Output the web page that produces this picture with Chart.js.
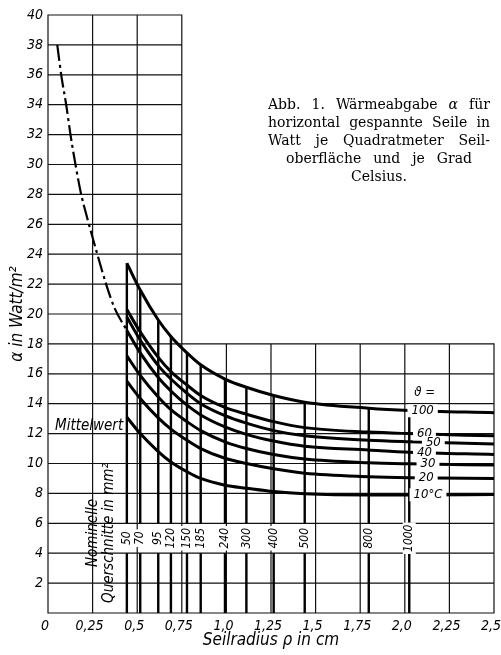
<!DOCTYPE html>
<html lang="de">
<head>
<meta charset="utf-8">
<title>Wärmeabgabe horizontal gespannter Seile</title>
<script src="https://cdn.jsdelivr.net/npm/chart.js@4.4.1/dist/chart.umd.min.js"></script>
<style>
  html, body { margin: 0; padding: 0; background: #fff; }
  canvas { display: block; }
</style>
</head>
<body>
<canvas id="waermeChart" width="501" height="655"></canvas>
<script>
// Stützstellen der Kurven: Seilradius in cm (Querschnitte 50 ... 1000 mm², dazu der Rand bei 2,5 cm)
const radii = [0.442, 0.517, 0.618, 0.689, 0.779, 0.856, 0.992, 1.112, 1.265, 1.439, 1.798, 2.025, 2.5];

// Wärmeabgabe α in W/m² je Grad, eine Reihe je Übertemperatur ϑ
const alpha100 = [23.4, 21.6, 19.6, 18.5, 17.4, 16.6, 15.65, 15.1, 14.55, 14.1, 13.7, 13.55, 13.4];
const alpha60  = [20.3, 18.8, 17.1, 16.15, 15.25, 14.55, 13.75, 13.3, 12.8, 12.4, 12.1, 12.0, 11.85];
const alpha50  = [19.8, 18.25, 16.55, 15.65, 14.7, 14.0, 13.2, 12.7, 12.2, 11.85, 11.55, 11.45, 11.3];
const alpha40  = [18.9, 17.4, 15.75, 14.85, 13.9, 13.25, 12.45, 11.95, 11.5, 11.15, 10.9, 10.75, 10.6];
const alpha30  = [17.2, 15.9, 14.45, 13.6, 12.8, 12.2, 11.45, 11.0, 10.6, 10.3, 10.05, 9.98, 9.9];
const alpha20  = [15.5, 14.35, 13.05, 12.3, 11.55, 11.0, 10.35, 10.0, 9.65, 9.35, 9.12, 9.05, 9.0];
const alpha10  = [13.1, 12.0, 10.8, 10.1, 9.45, 9.0, 8.55, 8.35, 8.12, 7.98, 7.9, 7.9, 7.92];
const tempLabels = ["100", "60", "50", "40", "30", "20", "10°C"];

// strichpunktierte Verlängerung zu kleinen Radien hin
const dashRadii = [0.052, 0.074, 0.102, 0.126, 0.154, 0.186, 0.218, 0.248, 0.274, 0.323, 0.373, 0.442];
const dashAlpha = [38, 36, 34, 32, 30, 28, 26.5, 25.2, 24.1, 22.1, 20.4, 18.9];

// Nennquerschnitte in mm², einer je Radius (ohne 2,5 cm)
const sectionLabels = ["50", "70", "95", "120", "150", "185", "240", "300", "400", "500", "800", "1000"];

const xTickValues = [0, 0.25, 0.5, 0.75, 1.0, 1.25, 1.5, 1.75, 2.0, 2.25, 2.5];
const xTickLabels = ["0", "0,25", "0,5", "0,75", "1,0", "1,25", "1,5", "1,75", "2,0", "2,25", "2,5"];
const yTickValues = [0, 2, 4, 6, 8, 10, 12, 14, 16, 18, 20, 22, 24, 26, 28, 30, 32, 34, 36, 38, 40];
const yTickLabels = ["", "2", "4", "6", "8", "10", "12", "14", "16", "18", "20", "22", "24", "26", "28", "30", "32", "34", "36", "38", "40"];

const captionLines = [
  "Abb. 1. Wärmeabgabe α für",
  "horizontal gespannte Seile in",
  "Watt je Quadratmeter Seil-",
  "oberfläche und je Grad",
  "Celsius."
];

const LETTER = "'Liberation Sans Narrow', 'DejaVu Sans Condensed', 'Arial Narrow', sans-serif";
const SERIF = "'DejaVu Serif', 'Liberation Serif', serif";

// Rasterfeld rechts oberhalb dieser Ecke bleibt frei (dort steht die Unterschrift)
const gridCorner = { x: 0.75, y: 18 };
// Band der Querschnittsbeschriftung, dort sind die Querschnittslinien unterbrochen
const labelBand = [4, 6];
// Lage der ϑ-Beschriftung auf den Kurven (Radius)
const tempLabelAt = [2.10, 2.11, 2.16, 2.11, 2.13, 2.12, 2.13];

const curves = [alpha100, alpha60, alpha50, alpha40, alpha30, alpha20, alpha10];

const datasets = curves.map((vals, i) => ({
  label: "ϑ = " + tempLabels[i],
  data: radii.map((r, k) => ({ x: r, y: vals[k] })),
  borderColor: "#000",
  borderWidth: 3,
  pointRadius: 0,
  cubicInterpolationMode: "monotone"
}));

datasets.push({
  label: "Verlängerung",
  data: dashRadii.map((r, k) => ({ x: r, y: dashAlpha[k] })),
  borderColor: "#000",
  borderWidth: 2.2,
  borderDash: [16, 4, 3, 4],
  pointRadius: 0,
  cubicInterpolationMode: "monotone"
});

sectionLabels.forEach((lab, k) => {
  const r = radii[k];
  datasets.push({
    label: lab + " mm²",
    data: [
      { x: r, y: 0 }, { x: r, y: labelBand[0] },
      { x: r, y: null },
      { x: r, y: labelBand[1] }, { x: r, y: alpha100[k] }
    ],
    borderColor: "#000",
    borderWidth: 2.4,
    pointRadius: 0
  });
});

// Wert einer Kurve zwischen zwei Stützstellen, nur für die Lage der Beschriftung
function valueAt(vals, r) {
  for (let i = 1; i < radii.length; i++) {
    if (r <= radii[i]) {
      const t = (r - radii[i - 1]) / (radii[i] - radii[i - 1]);
      return vals[i - 1] + t * (vals[i] - vals[i - 1]);
    }
  }
  return vals[vals.length - 1];
}

function boxedText(ctx, text, px, py, rotate, pad) {
  ctx.save();
  ctx.translate(px, py);
  if (rotate) ctx.rotate(-Math.PI / 2);
  const w = ctx.measureText(text).width;
  ctx.fillStyle = "#fff";
  ctx.fillRect(-w / 2 - pad, -6.5, w + 2 * pad, 13);
  ctx.fillStyle = "#000";
  ctx.textAlign = "center";
  ctx.textBaseline = "middle";
  ctx.fillText(text, 0, 0);
  ctx.restore();
}

const whiteBackground = {
  id: "whiteBackground",
  beforeDraw(chart) {
    const { ctx, width, height } = chart;
    ctx.save();
    ctx.fillStyle = "#fff";
    ctx.fillRect(0, 0, width, height);
    ctx.restore();
  }
};

const sheetGrid = {
  id: "sheetGrid",
  beforeDatasetsDraw(chart) {
    const { ctx, scales: { x, y } } = chart;
    const xMax = xTickValues[xTickValues.length - 1];
    const yMax = yTickValues[yTickValues.length - 1];
    ctx.save();
    ctx.strokeStyle = "#111";
    ctx.lineWidth = 1.2;
    ctx.lineCap = "square";
    ctx.beginPath();
    yTickValues.forEach(v => {
      const py = y.getPixelForValue(v);
      ctx.moveTo(x.getPixelForValue(0), py);
      ctx.lineTo(x.getPixelForValue(v <= gridCorner.y ? xMax : gridCorner.x), py);
    });
    xTickValues.forEach(u => {
      const px = x.getPixelForValue(u);
      ctx.moveTo(px, y.getPixelForValue(0));
      ctx.lineTo(px, y.getPixelForValue(u <= gridCorner.x ? yMax : gridCorner.y));
    });
    ctx.stroke();
    ctx.restore();
  }
};

const annotations = {
  id: "annotations",
  afterDatasetsDraw(chart) {
    const { ctx, scales: { x, y } } = chart;
    ctx.save();

    // ϑ-Werte auf den Kurven
    ctx.font = "italic 13px " + LETTER;
    curves.forEach((vals, i) => {
      const r = tempLabelAt[i];
      boxedText(ctx, tempLabels[i], x.getPixelForValue(r), y.getPixelForValue(valueAt(vals, r)), false, 4);
    });
    ctx.fillStyle = "#000";
    ctx.textAlign = "center";
    ctx.textBaseline = "middle";
    ctx.fillText("ϑ =", x.getPixelForValue(tempLabelAt[0]) + 2, y.getPixelForValue(valueAt(alpha100, tempLabelAt[0])) - 18);

    // Querschnitte an den senkrechten Linien
    ctx.font = "italic 12px " + LETTER;
    sectionLabels.forEach((lab, k) => {
      boxedText(ctx, lab, x.getPixelForValue(radii[k]), y.getPixelForValue((labelBand[0] + labelBand[1]) / 2), true, 2);
    });

    ctx.fillStyle = "#000";
    ctx.font = "italic 15px " + LETTER;
    ctx.textAlign = "center";
    ctx.textBaseline = "middle";
    [["Nominelle", 0.255], ["Querschnitte in mm²", 0.345]].forEach(([t, r]) => {
      ctx.save();
      ctx.translate(x.getPixelForValue(r), y.getPixelForValue(5.35));
      ctx.rotate(-Math.PI / 2);
      ctx.fillText(t, 0, 0);
      ctx.restore();
    });

    ctx.textAlign = "left";
    ctx.textBaseline = "alphabetic";
    ctx.fillText("Mittelwert", x.getPixelForValue(0) + 7, y.getPixelForValue(12) - 4);
    ctx.restore();
  },
  afterDraw(chart) {
    const ctx = chart.ctx;
    const left = 268, right = 490, base = 109, step = 18;
    const shortWidth = 186;   // die beiden Schlusszeilen stehen mittig
    ctx.save();
    ctx.fillStyle = "#000";
    ctx.textBaseline = "alphabetic";
    captionLines.forEach((line, n) => {
      const words = line.split(" ");
      const fonts = words.map(w => (w === "α" ? "italic " : "") + "14px " + SERIF);
      const widths = words.map((w, i) => { ctx.font = fonts[i]; return ctx.measureText(w).width; });
      const total = widths.reduce((a, b) => a + b, 0);
      const py = base + n * step;
      let gap = 0, px;
      if (n < 3) {
        gap = (right - left - total) / (words.length - 1);
        px = left;
      } else if (words.length > 1) {
        gap = (shortWidth - total) / (words.length - 1);
        px = (left + right) / 2 - shortWidth / 2;
      } else {
        px = (left + right) / 2 - total / 2;
      }
      words.forEach((w, i) => {
        ctx.font = fonts[i];
        ctx.fillText(w, px, py);
        px += widths[i] + gap;
      });
    });
    ctx.restore();
  }
};

new Chart(document.getElementById("waermeChart"), {
  type: "line",
  data: { datasets },
  options: {
    responsive: false,
    animation: false,
    layout: { padding: { top: 15, right: 7, left: 0, bottom: 0 } },
    plugins: { legend: { display: false }, tooltip: { enabled: false } },
    scales: {
      x: {
        type: "linear",
        min: 0,
        max: 2.5,
        grid: { display: false, drawTicks: false },
        border: { display: false },
        afterBuildTicks: s => { s.ticks = xTickValues.map(v => ({ value: v })); },
        afterFit: s => { s.height = 42; s.paddingLeft = 0; s.paddingRight = 0; },
        ticks: {
          callback: (v, i) => xTickLabels[i],
          color: "#000",
          padding: 5,
          labelOffset: -3,
          maxRotation: 0,
          autoSkip: false,
          font: { family: LETTER, size: 14, style: "italic" }
        },
        title: {
          display: true,
          text: "Seilradius ρ in cm",
          color: "#000",
          padding: { top: 0, bottom: 4 },
          font: { family: LETTER, size: 17, style: "italic" }
        }
      },
      y: {
        type: "linear",
        min: 0,
        max: 40,
        grid: { display: false, drawTicks: false },
        border: { display: false },
        afterBuildTicks: s => { s.ticks = yTickValues.map(v => ({ value: v })); },
        afterFit: s => { s.width = 48; s.paddingTop = 0; s.paddingBottom = 0; },
        ticks: {
          callback: (v, i) => yTickLabels[i],
          color: "#000",
          padding: 5,
          autoSkip: false,
          font: { family: LETTER, size: 14, style: "italic" }
        },
        title: {
          display: true,
          text: "α in Watt/m²",
          color: "#000",
          padding: { top: 7, bottom: 0 },
          font: { family: LETTER, size: 17, style: "italic" }
        }
      }
    }
  },
  plugins: [whiteBackground, sheetGrid, annotations]
});
</script>
</body>
</html>
